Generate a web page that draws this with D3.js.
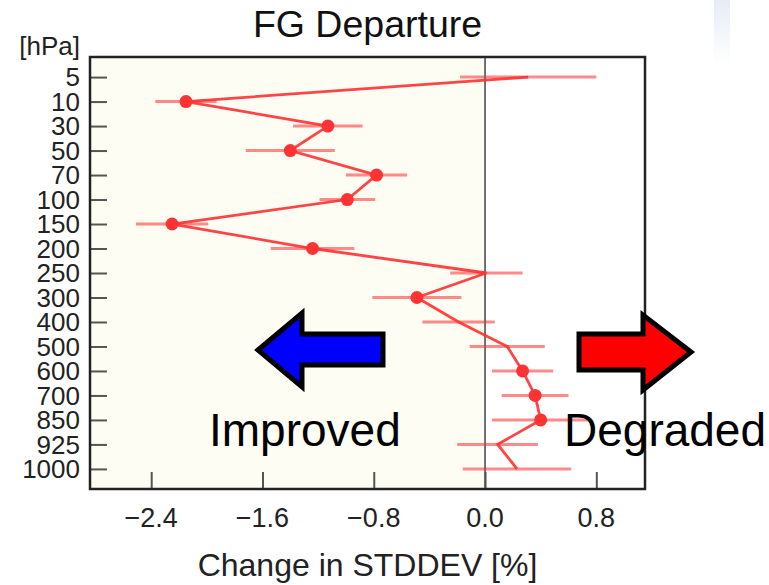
<!DOCTYPE html>
<html>
<head>
<meta charset="utf-8">
<script src="https://cdn.jsdelivr.net/npm/d3@7"></script>
<style>
  body { margin: 0; background: #fff; }
  svg { display: block; font-family: "Liberation Sans", Arial, sans-serif; }
</style>
</head>
<body>
<script>
// pressure levels, top to bottom
const levels = ['5', '10', '30', '50', '70', '100', '150', '200', '250', '300',
  '400', '500', '600', '700', '850', '925', '1000']
// change in stddev [%] per level
const change = [0.31, -2.15, -1.13, -1.40, -0.78, -0.99, -2.25, -1.24, 0.01, -0.49,
  -0.19, 0.16, 0.27, 0.36, 0.40, 0.09, 0.23]
// half width of the error bar [%]
const errHalf = [0.49, 0.22, 0.25, 0.32, 0.22, 0.20, 0.26, 0.30, 0.26, 0.32,
  0.26, 0.27, 0.22, 0.24, 0.35, 0.29, 0.39]
// levels that get a dot
const significant = [false, true, true, true, true, true, true, true, false, true,
  false, false, true, true, true, false, false]
const xTicks = [-2.4, -1.6, -0.8, 0.0, 0.8]

const data = levels.map((l, i) => ({level: l, v: change[i], e: errHalf[i], sig: significant[i]}))

const W = 769, H = 585
const margin = {top: 57, right: 124, bottom: 96, left: 90}
, width = W - margin.left - margin.right
, height = H - margin.top - margin.bottom

const svg = d3.select('body').append('svg')
    .attr('width', W)
    .attr('height', H)

// faint slide decoration in the top right corner
const grad = svg.append('defs').append('linearGradient')
    .attr('id', 'fade').attr('x1', 0).attr('y1', 0).attr('x2', 0).attr('y2', 1)
grad.append('stop').attr('offset', '0%').attr('stop-color', '#e6ecf6')
grad.append('stop').attr('offset', '100%').attr('stop-color', '#ffffff')
svg.append('rect')
    .attr('x', 714).attr('y', 0).attr('width', 16).attr('height', 64)
    .attr('fill', 'url(#fade)')

const xScale = d3.scaleLinear()
    .domain([-2.84, 1.15])
    .range([margin.left, margin.left + width])

const yScale = d3.scalePoint()
    .domain(levels)
    .range([margin.top, margin.top + height])
    .padding(0.82)

// shaded "improved" half
svg.append('rect')
    .attr('x', margin.left)
    .attr('y', margin.top)
    .attr('width', xScale(0) - margin.left)
    .attr('height', height)
    .attr('fill', '#fdfdf4')

// zero line
svg.append('line')
    .attr('x1', xScale(0)).attr('x2', xScale(0))
    .attr('y1', margin.top).attr('y2', margin.top + height)
    .attr('stroke', '#444')
    .attr('stroke-width', 1.5)

// error bars
svg.selectAll('.err').data(data)
  .enter()
  .append('line')
    .attr('class', 'err')
    .attr('x1', d => xScale(d.v - d.e))
    .attr('x2', d => xScale(d.v + d.e))
    .attr('y1', d => yScale(d.level))
    .attr('y2', d => yScale(d.level))
    .attr('stroke', '#ff2a2a')
    .attr('stroke-opacity', 0.55)
    .attr('stroke-width', 3)

const line = d3.line()
    .x(d => xScale(d.v))
    .y(d => yScale(d.level))

svg.append('path')
    .datum(data)
    .attr('d', line)
    .attr('fill', 'none')
    .attr('stroke', '#ff3030')
    .attr('stroke-opacity', 0.9)
    .attr('stroke-width', 2.8)

svg.selectAll('.dot').data(data.filter(d => d.sig))
  .enter()
  .append('circle')
    .attr('class', 'dot')
    .attr('cx', d => xScale(d.v))
    .attr('cy', d => yScale(d.level))
    .attr('r', 6.5)
    .attr('fill', '#ff3333')

// axes with inward ticks
const yAxis = svg.append('g')
    .attr('transform', 'translate(' + margin.left + ',0)')
    .call(d3.axisRight(yScale).tickSize(17).tickFormat(''))
yAxis.select('.domain').remove()
yAxis.selectAll('line').attr('stroke', '#555').attr('stroke-width', 2)

const xAxis = svg.append('g')
    .attr('transform', 'translate(0,' + (margin.top + height) + ')')
    .call(d3.axisTop(xScale).tickValues(xTicks).tickSize(17).tickFormat(''))
xAxis.select('.domain').remove()
xAxis.selectAll('line').attr('stroke', '#555').attr('stroke-width', 2)

// level labels (crowded like the original)
svg.selectAll('.ylab').data(levels)
  .enter()
  .append('text')
    .attr('class', 'ylab')
    .attr('x', 80)
    .attr('y', d => yScale(d))
    .attr('dy', '0.36em')
    .attr('text-anchor', 'end')
    .style('font-size', '26px')
    .attr('fill', '#222')
    .text(d => d)

svg.append('text')
    .attr('x', 80)
    .attr('y', 55)
    .attr('text-anchor', 'end')
    .style('font-size', '26px')
    .attr('fill', '#222')
    .text('[hPa]')

svg.selectAll('.xlab').data(xTicks)
  .enter()
  .append('text')
    .attr('class', 'xlab')
    .attr('x', d => xScale(d))
    .attr('y', 527)
    .attr('text-anchor', 'middle')
    .style('font-size', '27px')
    .attr('fill', '#222')
    .text(d => d3.format('.1f')(d))

svg.append('text')
    .attr('x', margin.left + width / 2)
    .attr('y', 576)
    .attr('text-anchor', 'middle')
    .style('font-size', '32px')
    .attr('fill', '#222')
    .text('Change in STDDEV [%]')

svg.append('text')
    .attr('x', margin.left + width / 2)
    .attr('y', 37)
    .attr('text-anchor', 'middle')
    .style('font-size', '37.5px')
    .attr('fill', '#111')
    .text('FG Departure')

// frame
svg.append('rect')
    .attr('x', margin.left)
    .attr('y', margin.top)
    .attr('width', width)
    .attr('height', height)
    .attr('fill', 'none')
    .attr('stroke', '#222')
    .attr('stroke-width', 2.5)

// direction arrows
const blueArrow = [[258, 350], [302, 313], [302, 334], [383, 334], [383, 365], [302, 365], [302, 387]]
const redArrow = [[691, 352], [643, 315], [643, 334], [579, 334], [579, 370], [643, 370], [643, 390]]

svg.append('path')
    .attr('d', d3.line()(blueArrow) + 'Z')
    .attr('fill', '#0000ff')
    .attr('stroke', '#000')
    .attr('stroke-width', 5)
    .attr('stroke-linejoin', 'miter')

svg.append('path')
    .attr('d', d3.line()(redArrow) + 'Z')
    .attr('fill', '#ff0000')
    .attr('stroke', '#000')
    .attr('stroke-width', 5)
    .attr('stroke-linejoin', 'miter')

svg.append('text')
    .attr('x', 209)
    .attr('y', 446)
    .style('font-size', '46px')
    .attr('fill', '#000')
    .text('Improved')

svg.append('text')
    .attr('x', 564)
    .attr('y', 446)
    .style('font-size', '46px')
    .attr('fill', '#000')
    .text('Degraded')
</script>
</body>
</html>
